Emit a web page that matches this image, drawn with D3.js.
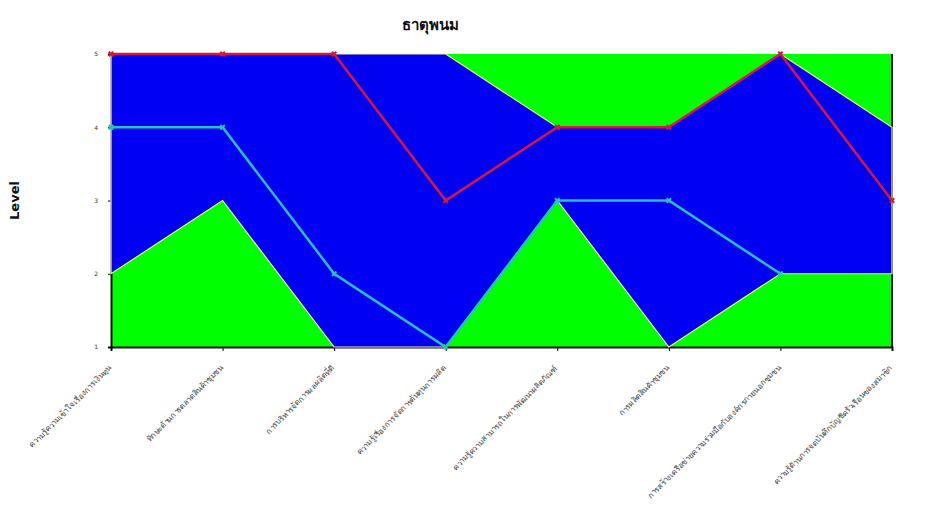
<!DOCTYPE html>
<html>
<head>
<meta charset="utf-8">
<script src="https://cdn.jsdelivr.net/npm/d3@7"></script>
<style>
  body { margin: 0; background: #fff; }
  svg { display: block; }
</style>
</head>
<body>
<div id="chart"></div>
<script>
/* DATA */
const categories = [
  "ความรู้ความเข้าใจเรื่องการเงินทุน",
  "ทักษะด้านการตลาดสินค้าชุมชน",
  "การบริหารจัดการผลผลิตที่ดี",
  "ความรู้เรื่องการจัดการต้นทุนการผลิต",
  "ความรู้ความสามารถในการพัฒนาผลิตภัณฑ์",
  "การผลิตสินค้าชุมชน",
  "การสร้างเครือข่ายความร่วมมือกับองค์กรภายนอกชุมชน",
  "ความรู้ด้านการจดบันทึกบัญชีครัวเรือนของสมาชิก"
];
const maxLevel = [5, 5, 5, 5, 4, 4, 5, 4];
const minLevel = [2, 3, 1, 1, 3, 1, 2, 2];
const redSeries = [5, 5, 5, 3, 4, 4, 5, 3];
const tealSeries = [4, 4, 2, 1, 3, 3, 2, null];
const yTicks = [1, 2, 3, 4, 5];

/* SIZES */
const width = 940, height = 514;
const margin = { top: 54, bottom: 167, left: 111, right: 48 };

const svg = d3.select("#chart")
  .append("svg")
  .attr("width", width)
  .attr("height", height);

// scales
const xScale = d3.scalePoint()
  .domain(d3.range(categories.length))
  .range([margin.left, width - margin.right]);

const yScale = d3.scaleLinear()
  .domain([1, 5])
  .range([height - margin.bottom, margin.top]);

// green background
svg.append("rect")
  .attr("x", margin.left)
  .attr("y", margin.top)
  .attr("width", width - margin.right - margin.left)
  .attr("height", height - margin.bottom - margin.top)
  .attr("fill", "#00ff00");

// axes
const yAxis = d3.axisLeft(yScale)
  .tickValues(yTicks)
  .tickSize(3)
  .tickPadding(10)
  .tickFormat(d => d);

const yAxisGroup = svg.append("g")
  .attr("transform", `translate(${margin.left}, 0)`)
  .call(yAxis);
yAxisGroup.select(".domain").attr("stroke", "#111").attr("stroke-width", 2);
yAxisGroup.selectAll("text")
  .attr("font-family", "DejaVu Sans")
  .attr("font-size", 6)
  .attr("fill", "#333");

const xAxis = d3.axisBottom(xScale)
  .tickSize(4)
  .tickFormat(i => categories[i]);

const xAxisGroup = svg.append("g")
  .attr("transform", `translate(0, ${height - margin.bottom})`)
  .call(xAxis);
xAxisGroup.select(".domain").attr("stroke", "#111").attr("stroke-width", 2);
xAxisGroup.selectAll("text")
  .attr("font-family", "DejaVu Sans, Noto Sans, sans-serif")
  .attr("font-size", 8)
  .attr("fill", "#444")
  .attr("text-anchor", "end")
  .attr("dx", -4)
  .attr("dy", 0)
  .attr("transform", "translate(-2,14) rotate(-45)");

// right edge line
svg.append("line")
  .attr("x1", width - margin.right)
  .attr("x2", width - margin.right)
  .attr("y1", yScale(5))
  .attr("y2", yScale(1))
  .attr("stroke", "#111")
  .attr("stroke-width", 2);

// blue band between min and max
const band = d3.area()
  .x((d, i) => xScale(i))
  .y0((d, i) => yScale(minLevel[i]))
  .y1((d, i) => yScale(maxLevel[i]));

svg.append("path")
  .datum(categories)
  .attr("d", band)
  .attr("fill", "#0000f2")
  .attr("stroke", "#f5f08a")
  .attr("stroke-width", 1.2);

// lines
const line = d3.line()
  .defined(d => d != null)
  .x((d, i) => xScale(i))
  .y(d => yScale(d));

function drawSeries(values, color) {
  svg.append("path")
    .datum(values)
    .attr("d", line)
    .attr("fill", "none")
    .attr("stroke", color)
    .attr("stroke-width", 2.5);

  svg.append("g")
    .selectAll("path")
    .data(values.map((v, i) => ({ v, i })).filter(d => d.v != null))
    .join("path")
    .attr("d", d3.symbol().type(d3.symbolCross).size(22))
    .attr("transform", d => `translate(${xScale(d.i)}, ${yScale(d.v)}) rotate(45)`)
    .attr("fill", color);
}

drawSeries(tealSeries, "#26c2c0");
drawSeries(redSeries, "#d4183e");

// title
svg.append("text")
  .attr("x", 430)
  .attr("y", 30)
  .attr("text-anchor", "middle")
  .attr("font-family", "DejaVu Sans, Noto Sans, sans-serif")
  .attr("font-weight", "bold")
  .attr("font-size", 15)
  .attr("fill", "#111")
  .text("ธาตุพนม");

// y label
svg.append("text")
  .attr("transform", `translate(19, ${(yScale(1) + yScale(5)) / 2}) rotate(-90)`)
  .attr("text-anchor", "middle")
  .attr("font-family", "DejaVu Sans, Noto Sans, sans-serif")
  .attr("font-weight", "bold")
  .attr("font-size", 13)
  .attr("fill", "#111")
  .text("Level");
</script>
</body>
</html>
